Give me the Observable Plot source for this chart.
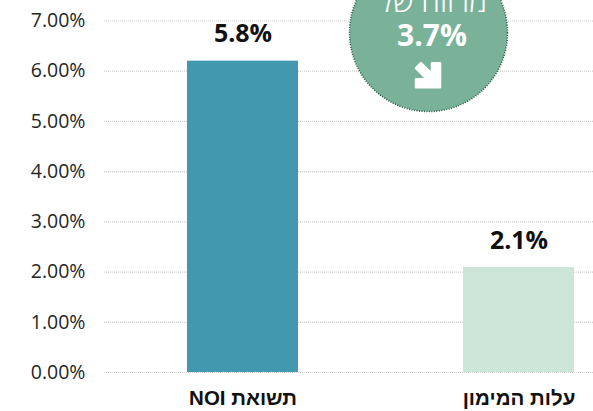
<!DOCTYPE html>
<html><head><meta charset="utf-8">
<script src="https://cdn.jsdelivr.net/npm/d3@7"></script>
<script src="https://cdn.jsdelivr.net/npm/@observablehq/plot@0.6"></script>
<style>html,body{margin:0;padding:0;background:#fff;overflow:hidden}svg{display:block}</style>
</head><body><div id="c"></div>
<script>
const categories = ["תשואת NOI", "עלות המימון"];
const barValues = [6.2, 2.09];
const barLabels = ["5.8%", "2.1%"];
const barColors = ["#4298ae", "#cde5d9"];
const ticks = [0, 1, 2, 3, 4, 5, 6, 7];
const spreadTitle = "מרווח של";
const spreadValue = "3.7%";

const font = "'Open Sans', 'Noto Sans', sans-serif";
const bars = categories.map((c, i) => ({c, v: barValues[i], label: barLabels[i], color: barColors[i]}));
const anchorCat = categories[1];
const arrowShape = {
  draw(ctx) {
    ctx.moveTo(-12, -7);
    ctx.lineTo(-7, -12);
    ctx.lineTo(4, -1);
    ctx.lineTo(4, -12);
    ctx.lineTo(12, -12);
    ctx.lineTo(12, 12);
    ctx.lineTo(-12, 12);
    ctx.lineTo(-12, 4);
    ctx.lineTo(-1, 4);
    ctx.closePath();
  }
};

const chart = Plot.plot({
  width: 593, height: 411,
  marginLeft: 104, marginRight: 0, marginTop: 20.5, marginBottom: 39,
  style: {fontFamily: font, background: "#fff", overflow: "hidden"},
  x: {domain: categories, range: [104.5, 656.5], paddingInner: 0.598, paddingOuter: 0.299, align: 0.5, label: null},
  y: {domain: [0, 7], label: null},
  marks: [
    Plot.ruleY(ticks, {stroke: "#cfcfcf", strokeWidth: 1.2, strokeDasharray: "1 1"}),
    Plot.barY(bars, {x: "c", y: "v", fill: "color"}),
    Plot.axisY({ticks, anchor: "left", tickSize: 0, tickPadding: 19, tickFormat: d => d.toFixed(2) + "%",
      fontSize: 19.5, fill: "#262626", label: null}),
    Plot.axisX({anchor: "bottom", tickSize: 0, tickPadding: 18, fontSize: 20.5, fontWeight: 700,
      tickFormat: d => "\u2067" + d + "\u2069",
      fontFamily: "'Liberation Sans', Arial, sans-serif", fill: "#111", label: null}),
    Plot.text(bars, {x: "c", y: "v", text: "label", dy: -27, fontSize: 25, fontWeight: 700, fill: "#111"}),
    Plot.dot([{c: anchorCat, y: 6.77}], {x: "c", y: "y", r: 79, dx: -90.5, fill: "#79b299",
      stroke: "#2a5a4a", strokeWidth: 1.6, strokeDasharray: "1 1.5"}),
    Plot.text([{c: anchorCat, y: 7.38, t: spreadTitle}], {x: "c", y: "y", text: "t", dx: -86, fontSize: 30, fontWeight: 300, fill: "#fff"}),
    Plot.text([{c: anchorCat, y: 6.7, t: spreadValue}], {x: "c", y: "y", text: "t", dx: -87, fontSize: 30, fontWeight: 700, fill: "#fff"}),
    Plot.vector([{c: anchorCat, y: 5.93}], {x: "c", y: "y", dx: -91, length: 1, rotate: 0, shape: arrowShape, fill: "#fff", stroke: "#fff", strokeWidth: 2.5, strokeLinejoin: "round", anchor: "middle"})
  ]
});
document.getElementById("c").appendChild(chart);
</script></body></html>
